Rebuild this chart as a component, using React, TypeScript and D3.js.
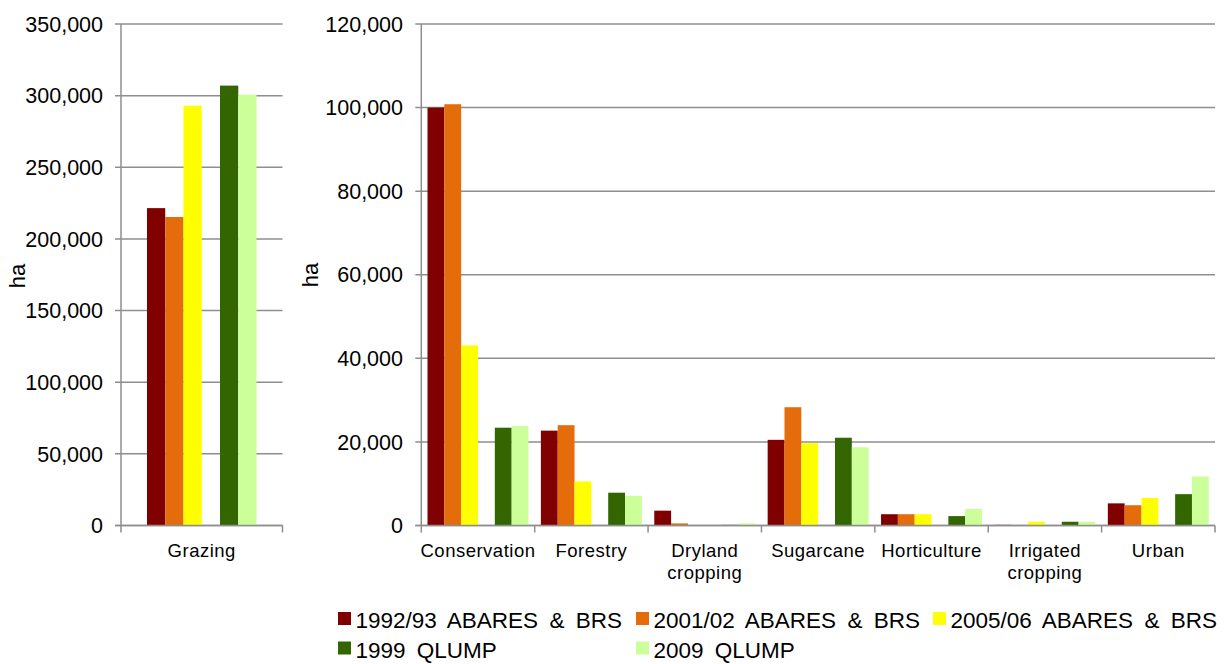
import React from "react";
import * as d3 from "d3";

// Land use areas (ha) by source
const seriesNames = [
  "1992/93 ABARES & BRS",
  "2001/02 ABARES & BRS",
  "2005/06 ABARES & BRS",
  "1999 QLUMP",
  "2009 QLUMP",
];
const seriesColors = ["#800000", "#E46C0A", "#FFFF00", "#336600", "#CCFF99"];
// slot index of each series inside a category group (slot 3 is left empty)
const seriesSlots = [0, 1, 2, 4, 5];

const grazingCategory = ["Grazing"];
const grazingValues = [221500, 215300, 293000, 307000, 300700];

const categories = [
  "Conservation",
  "Forestry",
  "Dryland cropping",
  "Sugarcane",
  "Horticulture",
  "Irrigated cropping",
  "Urban",
];
const v1992 = [100000, 22700, 3550, 20500, 2700, 150, 5300];
const v2001 = [100800, 24000, 500, 28300, 2700, 100, 4850];
const v2005 = [43100, 10550, 80, 19700, 2700, 900, 6600];
const v1999 = [23400, 7850, 150, 21000, 2250, 900, 7500];
const v2009 = [23800, 7100, 500, 18700, 3950, 900, 11750];
const otherSeries = [v1992, v2001, v2005, v1999, v2009];

const leftTicks = [0, 50000, 100000, 150000, 200000, 250000, 300000, 350000];
const rightTicks = [0, 20000, 40000, 60000, 80000, 100000, 120000];

const W = 1225;
const H = 664;
const TOP = 24;
const BASE = 525.5;
const GRID = "#8E8E8E";
const FONT = "'Liberation Sans', Arial, sans-serif";
const fmt = d3.format(",");

type PanelProps = {
  x0: number;
  x1: number;
  cats: string[];
  data: number[][]; // [series][category]
  max: number;
  ticks: number[];
  groupInset: number;
  labelX: number;
};

function Panel({ x0, x1, cats, data, max, ticks, groupInset, labelX }: PanelProps) {
  const y = d3.scaleLinear().domain([0, max]).range([BASE, TOP]);
  const xb = d3.scaleBand<string>().domain(cats).range([x0, x1]).padding(0);
  const bw = xb.bandwidth();
  const slot = d3
    .scaleBand<number>()
    .domain([0, 1, 2, 3, 4, 5])
    .range([groupInset, bw - groupInset])
    .padding(0);
  const edges = cats.map((c) => xb(c) as number).concat([x1]);
  return (
    <g>
      {/* gridlines and y ticks */}
      {ticks.map((t) => (
        <g key={t}>
          <line x1={x0 - 6} x2={x1} y1={y(t)} y2={y(t)} stroke={GRID} strokeWidth={1.5} />
          <text
            x={labelX}
            y={y(t)}
            dy="0.36em"
            textAnchor="end"
            fontSize={21.5}
            fontFamily={FONT}
            fill="#000"
          >
            {fmt(t)}
          </text>
        </g>
      ))}
      {/* bars */}
      {data.map((vals, si) =>
        cats.map((c, ci) => (
          <rect
            key={`${si}-${ci}`}
            x={(xb(c) as number) + (slot(seriesSlots[si]) as number)}
            y={y(vals[ci])}
            width={slot.bandwidth()}
            height={BASE - y(vals[ci])}
            fill={seriesColors[si]}
          />
        ))
      )}
      {/* axes */}
      <line x1={x0} x2={x0} y1={TOP} y2={BASE} stroke={GRID} strokeWidth={1.5} />
      <line x1={x0 - 6} x2={x1} y1={BASE} y2={BASE} stroke={GRID} strokeWidth={1.5} />
      {edges.map((e, i) => (
        <line key={i} x1={e} x2={e} y1={BASE} y2={BASE + 7} stroke={GRID} strokeWidth={1.5} />
      ))}
      {/* category labels */}
      {cats.map((c) => {
        const words = c.split(" ");
        const cx = (xb(c) as number) + bw / 2;
        return (
          <text
            key={c}
            x={cx}
            y={557}
            textAnchor="middle"
            fontSize={18.5}
            letterSpacing={0.5}
            fontFamily={FONT}
            fill="#000"
          >
            {words.map((w, i) => (
              <tspan key={i} x={cx} dy={i === 0 ? 0 : 22}>
                {w}
              </tspan>
            ))}
          </text>
        );
      })}
    </g>
  );
}

function Legend() {
  const cols = [338, 636, 933];
  const rows = [612, 641.5];
  const pos = [
    [0, 0],
    [1, 0],
    [2, 0],
    [0, 1],
    [1, 1],
  ];
  return (
    <g>
      {seriesNames.map((n, i) => {
        const [c, r] = pos[i];
        return (
          <g key={n}>
            <rect x={cols[c]} y={rows[r]} width={13} height={13} fill={seriesColors[i]} />
            <text
              x={cols[c] + 17.5}
              y={rows[r] + 16}
              fontSize={22.5}
              wordSpacing={5}
              fontFamily={FONT}
              fill="#000"
            >
              {n}
            </text>
          </g>
        );
      })}
    </g>
  );
}

export default function App() {
  const grazingData = grazingValues.map((v) => [v]);
  return (
    <svg
      width={W}
      height={H}
      style={{ position: "absolute", left: 0, top: 0, background: "#fff", display: "block" }}
    >
      <rect width={W} height={H} fill="#fff" />
      <Panel
        x0={121}
        x1={282.5}
        cats={grazingCategory}
        data={grazingData}
        max={350000}
        ticks={leftTicks}
        groupInset={26}
        labelX={103}
      />
      <Panel
        x0={421.3}
        x1={1215}
        cats={categories}
        data={otherSeries}
        max={120000}
        ticks={rightTicks}
        groupInset={6.2}
        labelX={403}
      />
      <text transform="translate(25,276) rotate(-90)" textAnchor="middle" fontSize={22} fontFamily={FONT}>
        ha
      </text>
      <text transform="translate(318,275) rotate(-90)" textAnchor="middle" fontSize={22} fontFamily={FONT}>
        ha
      </text>
      <Legend />
    </svg>
  );
}
